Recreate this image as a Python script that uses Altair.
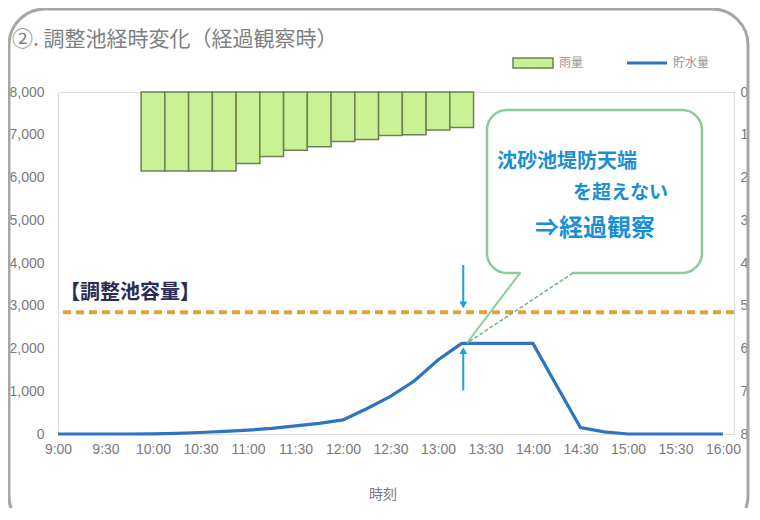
import altair as alt
import pandas as pd

# ---------------- data ----------------
title_text = "②. 調整池経時変化（経過観察時）"
x_title = "時刻"
capacity_label = "【調整池容量】"
legend_labels = ["雨量", "貯水量"]
callout_lines = ["沈砂池堤防天端", "を超えない", "⇒経過観察"]

x_tick_labels = ["9:00", "9:30", "10:00", "10:30", "11:00", "11:30", "12:00", "12:30",
                 "13:00", "13:30", "14:00", "14:30", "15:00", "15:30", "16:00"]

storage_times = ["9:00", "9:15", "9:30", "9:45", "10:00", "10:15", "10:30", "10:45",
                 "11:00", "11:15", "11:30", "11:45", "12:00", "12:15", "12:30", "12:45",
                 "13:00", "13:15", "13:30", "13:45", "14:00", "14:15", "14:30", "14:45",
                 "15:00", "15:15", "15:30", "15:45", "16:00"]
storage_values = [0, 0, 0, 0, 5, 15, 35, 60,
                  90, 130, 190, 250, 330, 590, 880, 1240,
                  1730, 2120, 2120, 2120, 2120, 1130, 150, 50,
                  0, 0, 0, 0, 0]

rain_times = ["10:00", "10:15", "10:30", "10:45", "11:00", "11:15", "11:30",
              "11:45", "12:00", "12:15", "12:30", "12:45", "13:00", "13:15"]
rain_values = [1.85, 1.85, 1.85, 1.85, 1.67, 1.51, 1.36,
               1.28, 1.16, 1.11, 1.02, 1.00, 0.89, 0.83]

capacity = 2850
peak_time = "13:16"


def to_min(s):
    h, m = s.split(":")
    return (int(h) - 9) * 60 + int(m)


storage_df = pd.DataFrame({"t": [to_min(s) for s in storage_times], "v": storage_values})
rain_df = pd.DataFrame({
    "start": [to_min(s) - 7.5 for s in rain_times],
    "end": [to_min(s) + 7.5 for s in rain_times],
    "r0": [0] * len(rain_times),
    "r": rain_values,
})
peak_val = max(storage_values)
arrow_t = to_min(peak_time)
arrows_df = pd.DataFrame({
    "t": [arrow_t] * 4,
    "v": [capacity + 1100, capacity + 180, peak_val - 1100, peak_val - 180],
    "g": ["down", "down", "up", "up"],
})
heads_df = pd.DataFrame({
    "t": [arrow_t, arrow_t],
    "v": [capacity + 170, peak_val - 170],
    "shape": ["triangle-down", "triangle-up"],
})
cap_df = pd.DataFrame({"v": [capacity]})
one = pd.DataFrame({"a": [0]})

# ---------------- scales / axes ----------------
GRAY = "#7a7a7a"
FONT = "Liberation Sans"
CJK = "Noto Sans CJK JP"

x_ticks = [to_min(s) for s in x_tick_labels]
xscale = alt.Scale(domain=[0, 427], nice=False, zero=False)
xaxis = alt.Axis(values=x_ticks, title=None, grid=False, ticks=False, domain=False,
                 labelExpr="(floor(datum.value/60)+9) + ':' + (datum.value % 60 == 0 ? '00' : '30')",
                 labelColor=GRAY, labelFontSize=14, labelFont=FONT, labelPadding=8,
                 labelOverlap=False, labelFlush=False)
yscale = alt.Scale(domain=[0, 8000], nice=False)
yaxis = alt.Axis(orient="left", values=list(range(0, 8001, 1000)), title=None,
                 labelExpr="format(datum.value, ',.0f')",
                 grid=False, ticks=False, domain=False, labelColor=GRAY, labelFontSize=14,
                 labelFont=FONT, labelPadding=14, labelFlush=False)


def X(field):
    return alt.X(field, type="quantitative", scale=xscale, axis=xaxis)


def Y(field):
    return alt.Y(field, type="quantitative", scale=yscale, axis=yaxis)


# ---------------- main layers ----------------
cap_rule = alt.Chart(cap_df).mark_rule(color="#e2a23b", strokeWidth=4, strokeDash=[8, 5]).encode(
    y=Y("v"))

line = alt.Chart(storage_df).mark_line(color="#2e74c2", strokeWidth=3.2).encode(
    x=X("t"), y=Y("v"))

arrow_shafts = alt.Chart(arrows_df).mark_line(color="#1aa0da", strokeWidth=2).encode(
    x=X("t"), y=Y("v"), detail="g:N")
arrow_heads = alt.Chart(heads_df).mark_point(filled=True, color="#1aa0da", size=60, opacity=1).encode(
    x=X("t"), y=Y("v"),
    shape=alt.Shape("shape:N", scale=None, legend=None))

GREEN = "#86cc9c"
box = alt.Chart(one).mark_rect(fill="white", stroke=GREEN, strokeWidth=2.5, cornerRadius=20).encode(
    x=alt.value(429), x2=alt.value(644), y=alt.value(18), y2=alt.value(181))
gap = alt.Chart(one).mark_rule(color="white", strokeWidth=4).encode(
    x=alt.value(463), x2=alt.value(514), y=alt.value(181), y2=alt.value(181))
wedge1 = alt.Chart(one).mark_rule(color=GREEN, strokeWidth=2).encode(
    x=alt.value(462), y=alt.value(181), x2=alt.value(409), y2=alt.value(251))
wedge2 = alt.Chart(one).mark_rule(color="#6fb58a", strokeWidth=1.5, strokeDash=[4, 2]).encode(
    x=alt.value(515), y=alt.value(181), x2=alt.value(409), y2=alt.value(251))

BLUE_T = "#1b8fd3"
c1 = alt.Chart(one).mark_text(text=callout_lines[0], font=CJK, fontSize=20, color=BLUE_T,
                              align="left", baseline="middle", fontWeight="bold").encode(
    x=alt.value(439), y=alt.value(70))
c2 = alt.Chart(one).mark_text(text=callout_lines[1], font=CJK, fontSize=19, color=BLUE_T,
                              align="left", baseline="middle", fontWeight="bold").encode(
    x=alt.value(515), y=alt.value(101))
c3 = alt.Chart(one).mark_text(text=callout_lines[2], font=CJK, fontSize=24, color=BLUE_T,
                              align="left", baseline="middle", fontWeight="bold").encode(
    x=alt.value(477), y=alt.value(137))

cap_text = alt.Chart(one).mark_text(text=capacity_label, font=CJK, fontSize=20, color="#2b2b55",
                                    align="left", baseline="middle", fontWeight="bold").encode(
    x=alt.value(2), y=alt.value(201))

title = alt.Chart(one).mark_text(text=title_text, font=CJK, fontSize=21, color="#7f7f7f",
                                 align="left", baseline="middle").encode(
    x=alt.value(-46), y=alt.value(-52))

xtitle = alt.Chart(one).mark_text(text=x_title, font=CJK, fontSize=14, color=GRAY,
                                  align="center", baseline="middle").encode(
    x=alt.value(325), y=alt.value(403))

leg_rect = alt.Chart(one).mark_rect(fill="#c8f294", stroke="#6e7f55", strokeWidth=1.5).encode(
    x=alt.value(455), x2=alt.value(495), y=alt.value(-34), y2=alt.value(-24))
leg_t1 = alt.Chart(one).mark_text(text=legend_labels[0], font=CJK, fontSize=12, color="#999999",
                                  align="left", baseline="middle").encode(
    x=alt.value(501), y=alt.value(-29))
leg_line = alt.Chart(one).mark_rule(color="#2e74c2", strokeWidth=3).encode(
    x=alt.value(569), x2=alt.value(609), y=alt.value(-29), y2=alt.value(-29))
leg_t2 = alt.Chart(one).mark_text(text=legend_labels[1], font=CJK, fontSize=12, color="#999999",
                                  align="left", baseline="middle").encode(
    x=alt.value(615), y=alt.value(-29))

frame = alt.Chart(one).mark_rect(fill="white", fillOpacity=0, stroke="#a6a6a6", strokeWidth=3,
                                 cornerRadius=36).encode(
    x=alt.value(-49), x2=alt.value(690), y=alt.value(-83), y2=alt.value(440))

main = alt.layer(frame, cap_rule, line, arrow_shafts, arrow_heads, box, gap, wedge1, wedge2,
                 c1, c2, c3, cap_text, title, xtitle, leg_rect, leg_t1, leg_line, leg_t2)

# ---------------- rain bars (right axis) ----------------
rain = alt.Chart(rain_df).mark_bar(fill="#c8f294", stroke="#6e7f55", strokeWidth=1.5).encode(
    x=X("start"), x2="end",
    y=alt.Y("r0:Q", scale=alt.Scale(domain=[0, 8], reverse=True, nice=False),
            axis=alt.Axis(orient="right", values=list(range(0, 9)), format="d", title=None,
                          grid=False, ticks=False, domain=False, labelColor=GRAY,
                          labelFontSize=14, labelFont=FONT, labelPadding=6, labelFlush=False)),
    y2="r:Q")

chart = alt.layer(main, rain).resolve_scale(y="independent").properties(
    width=676, height=342,
    padding={"left": 50, "top": 84, "right": 18, "bottom": 74},
    autosize=alt.AutoSizeParams(type="none"),
).configure_view(stroke="#555555", strokeWidth=2).configure(background="white")

chart.save("out.html", embed_options={"renderer": "svg", "actions": False})
